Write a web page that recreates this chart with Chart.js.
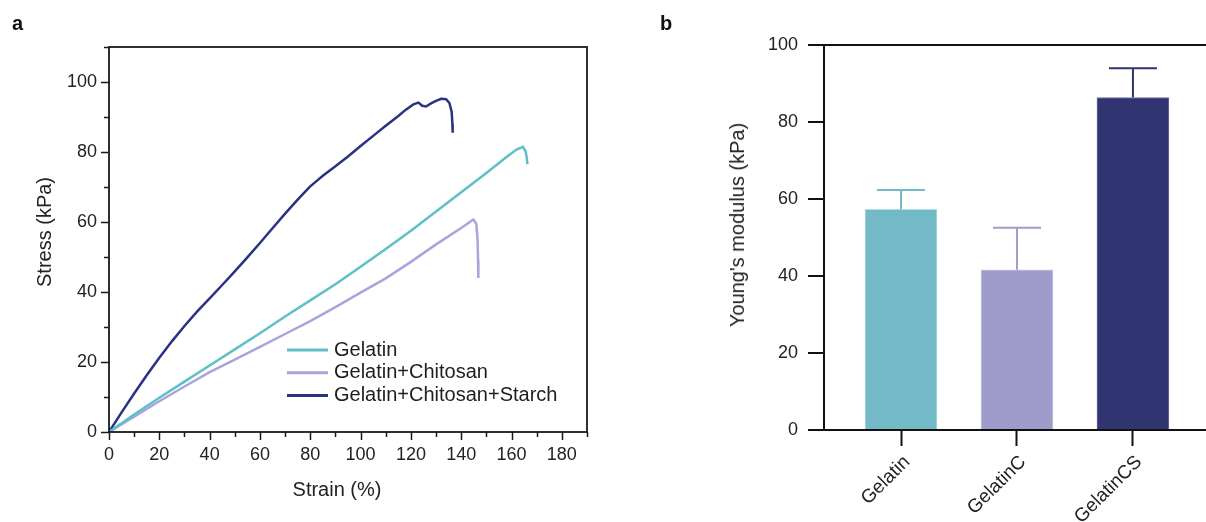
<!DOCTYPE html>
<html lang="en">
<head>
<meta charset="UTF-8">
<title>Stress-strain curves and Young's modulus</title>
<script src="https://cdn.jsdelivr.net/npm/chart.js"></script>
<style>
  body { margin: 0; background: #fff; font-family: 'Liberation Sans', Arial, sans-serif; color: #222; }
  #wrap { position: relative; width: 1206px; height: 522px; overflow: hidden; }
  canvas { position: absolute; top: 0; }
  #stress-chart { left: 0; }
  #modulus-chart { left: 600px; }
  .label { position: absolute; white-space: nowrap; line-height: 1; }
  .panel { font-weight: bold; font-size: 20px; color: #111; }
  .title { font-size: 20px; transform: translate(-50%, -50%); }
  .title.vertical { transform: translate(-50%, -50%) rotate(-90deg); }
</style>
</head>
<body>
<div id="wrap">
  <canvas id="stress-chart" width="600" height="522"></canvas>
  <canvas id="modulus-chart" width="606" height="522"></canvas>
  <div class="label panel" style="left:12px; top:13px;">a</div>
  <div class="label panel" style="left:660px; top:13px;">b</div>
  <div class="label title vertical" style="left:44px; top:232px;">Stress (kPa)</div>
  <div class="label title" style="left:337px; top:489px;">Strain (%)</div>
  <div class="label title vertical" style="left:737px; top:225px;">Young's modulus (kPa)</div>
</div>

<script>
    // ---- panel a: stress-strain curves ----
    const gelatinStrain = [0, 10, 20, 30, 40, 50, 60, 70, 80, 90, 100, 110, 120, 130, 140, 150, 158, 162, 164.5, 165.6, 166.1, 166.3];
    const gelatinStress = [0, 5.0, 9.8, 14.4, 19.0, 23.6, 28.2, 33.0, 37.6, 42.2, 47.2, 52.3, 57.5, 63.0, 68.5, 74.0, 78.6, 80.7, 81.5, 80.2, 78.2, 76.5];

    const chitosanStrain = [0, 10, 20, 30, 40, 50, 60, 70, 80, 90, 100, 110, 120, 130, 140, 143, 144.8, 146, 146.5, 146.7, 146.8];
    const chitosanStress = [0, 4.4, 8.8, 13.0, 17.1, 20.7, 24.3, 28.0, 31.7, 35.7, 39.8, 43.9, 48.6, 53.6, 58.3, 59.8, 60.7, 59.5, 55.0, 49.0, 44.0];

    const starchStrain = [0, 5, 10, 15, 20, 25, 30, 35, 40, 45, 50, 55, 60, 65, 70, 75, 78, 80, 82, 85, 90, 95, 100, 105, 110, 115, 118, 121, 123, 124.5, 126, 128, 130, 132, 134, 135.3, 136.2, 136.5, 136.6];
    const starchStress = [0, 5.6, 11.0, 16.2, 21.2, 25.9, 30.3, 34.4, 38.2, 42.0, 45.9, 49.9, 54.0, 58.2, 62.4, 66.4, 68.7, 70.2, 71.4, 73.2, 75.9, 78.7, 81.7, 84.6, 87.5, 90.3, 92.1, 93.6, 94.1, 93.2, 93.0, 93.9, 94.6, 95.2, 95.1, 94.0, 91.5, 88.0, 85.5];

    const curveLabels = ['Gelatin', 'Gelatin+Chitosan', 'Gelatin+Chitosan+Starch'];
    const curveColors = ['#5fbfc8', '#a8a5dc', '#2a3282'];
    const strainTicks = [0, 20, 40, 60, 80, 100, 120, 140, 160, 180];
    const stressTicks = [0, 20, 40, 60, 80, 100];

    // ---- panel b: Young's modulus bars ----
    const groups = ['Gelatin', 'GelatinC', 'GelatinCS'];
    const modulusMean = [57.3, 41.6, 86.3];
    const modulusSD = [5.0, 10.9, 7.6];
    const modulusTicks = [0, 20, 40, 60, 80, 100];
    const barColors = ['#73b9c7', '#9f9ccc', '#303470'];
    const barEdges = ['#b4dde4', '#cac8e6', '#6d71a0'];

    Chart.defaults.font.family = "'Liberation Sans', Arial, sans-serif";
    Chart.defaults.color = '#222';

    const tickFont = { size: 18 };
    const toPoints = (xs, ys) => xs.map((x, i) => ({ x: x, y: ys[i] }));

    // box frame plus major/minor ticks for panel a
    const frameAndTicks = {
        id: 'frameAndTicks',
        afterDraw(chart) {
            const { ctx, chartArea: a, scales: { x, y } } = chart;
            ctx.save();
            ctx.strokeStyle = '#1a1a1a';
            ctx.lineWidth = 1.8;
            ctx.strokeRect(a.left, a.top, a.right - a.left, a.bottom - a.top);
            ctx.lineWidth = 1.5;
            ctx.beginPath();
            x.ticks.forEach(t => {
                const px = Math.round(x.getPixelForValue(t.value)) + 0.5;
                const len = strainTicks.includes(t.value) ? 8 : 5;
                ctx.moveTo(px, a.bottom);
                ctx.lineTo(px, a.bottom + len);
            });
            y.ticks.forEach(t => {
                const py = Math.round(y.getPixelForValue(t.value)) + 0.5;
                const len = stressTicks.includes(t.value) ? 8 : 5;
                ctx.moveTo(a.left, py);
                ctx.lineTo(a.left - len, py);
            });
            ctx.stroke();
            ctx.restore();
        }
    };

    // legend inside the plot, lower right
    const curveLegend = {
        id: 'curveLegend',
        afterDraw(chart) {
            const { ctx } = chart;
            ctx.save();
            ctx.font = "20px 'Liberation Sans', Arial, sans-serif";
            ctx.textBaseline = 'middle';
            ctx.fillStyle = '#1e1e1e';
            chart.data.datasets.forEach((ds, i) => {
                const rowY = 350 + i * 22.8;
                ctx.strokeStyle = ds.borderColor;
                ctx.lineWidth = 3;
                ctx.beginPath();
                ctx.moveTo(287, rowY);
                ctx.lineTo(328, rowY);
                ctx.stroke();
                ctx.fillText(ds.label, 334, rowY);
            });
            ctx.restore();
        }
    };

    new Chart(document.getElementById('stress-chart'), {
        type: 'line',
        data: {
            datasets: [
                { label: curveLabels[0], data: toPoints(gelatinStrain, gelatinStress), borderColor: curveColors[0] },
                { label: curveLabels[1], data: toPoints(chitosanStrain, chitosanStress), borderColor: curveColors[1] },
                { label: curveLabels[2], data: toPoints(starchStrain, starchStress), borderColor: curveColors[2] }
            ]
        },
        options: {
            responsive: false,
            animation: false,
            datasets: { line: { borderWidth: 2.5, pointRadius: 0, tension: 0, fill: false } },
            layout: { padding: { top: 47, right: 13, left: 0, bottom: 0 } },
            plugins: { legend: { display: false }, tooltip: { enabled: false } },
            scales: {
                x: {
                    type: 'linear', min: 0, max: 190,
                    ticks: {
                        stepSize: 10, autoSkip: false, maxRotation: 0, font: tickFont, padding: 4,
                        callback: v => strainTicks.includes(v) ? String(v) : ''
                    },
                    grid: { drawOnChartArea: false, tickLength: 8, tickColor: 'transparent' },
                    border: { display: false },
                    afterFit: s => { s.height = 90; }
                },
                y: {
                    min: 0, max: 110,
                    ticks: {
                        stepSize: 10, autoSkip: false, font: tickFont, padding: 4,
                        callback: v => stressTicks.includes(v) ? String(v) : ''
                    },
                    grid: { drawOnChartArea: false, tickLength: 8, tickColor: 'transparent' },
                    border: { display: false },
                    afterFit: s => { s.width = 109; }
                }
            }
        },
        plugins: [frameAndTicks, curveLegend]
    });

    // upper error bars (mean + SD) in the bar colour
    const errorBars = {
        id: 'errorBars',
        afterDatasetsDraw(chart) {
            const { ctx, scales: { x, y } } = chart;
            ctx.save();
            ctx.lineWidth = 2;
            modulusMean.forEach((m, i) => {
                const cx = x.getPixelForValue(i);
                const y0 = y.getPixelForValue(m);
                const y1 = y.getPixelForValue(m + modulusSD[i]);
                ctx.strokeStyle = barColors[i];
                ctx.beginPath();
                ctx.moveTo(cx, y0);
                ctx.lineTo(cx, y1);
                ctx.moveTo(cx - 24, y1);
                ctx.lineTo(cx + 24, y1);
                ctx.stroke();
            });
            ctx.restore();
        }
    };

    new Chart(document.getElementById('modulus-chart'), {
        type: 'bar',
        data: {
            datasets: [{
                label: "Young's modulus",
                data: groups.map((g, i) => ({ x: i, y: modulusMean[i] })),
                backgroundColor: barColors,
                borderColor: barEdges,
                borderWidth: 1,
                barThickness: 72
            }]
        },
        options: {
            responsive: false,
            animation: false,
            layout: { padding: { top: 44.7, right: 0, left: 0, bottom: 0 } },
            plugins: { legend: { display: false }, tooltip: { enabled: false } },
            scales: {
                x: {
                    type: 'linear', min: -0.664, max: 2.63, offset: false,
                    afterBuildTicks: s => { s.ticks = groups.map((g, i) => ({ value: i })); },
                    ticks: {
                        autoSkip: false, minRotation: 45, maxRotation: 45, font: { size: 19 },
                        padding: 5, labelOffset: 6,
                        callback: v => groups[v]
                    },
                    grid: { offset: false, drawOnChartArea: false, tickLength: 16, tickWidth: 2, tickColor: '#111' },
                    border: { display: true, color: '#111', width: 2 },
                    afterFit: s => { s.height = 92; }
                },
                y: {
                    min: 0, max: 100,
                    afterBuildTicks: s => { s.ticks = modulusTicks.map(v => ({ value: v })); },
                    ticks: { font: tickFont, padding: 10 },
                    grid: {
                        tickLength: 16, tickWidth: 2, tickColor: '#111', lineWidth: 2,
                        color: c => (c.tick && c.tick.value === 100) ? '#111' : 'transparent'
                    },
                    border: { display: true, color: '#111', width: 2 },
                    afterFit: s => { s.width = 224; }
                }
            }
        },
        plugins: [errorBars]
    });
</script>
</body>
</html>
